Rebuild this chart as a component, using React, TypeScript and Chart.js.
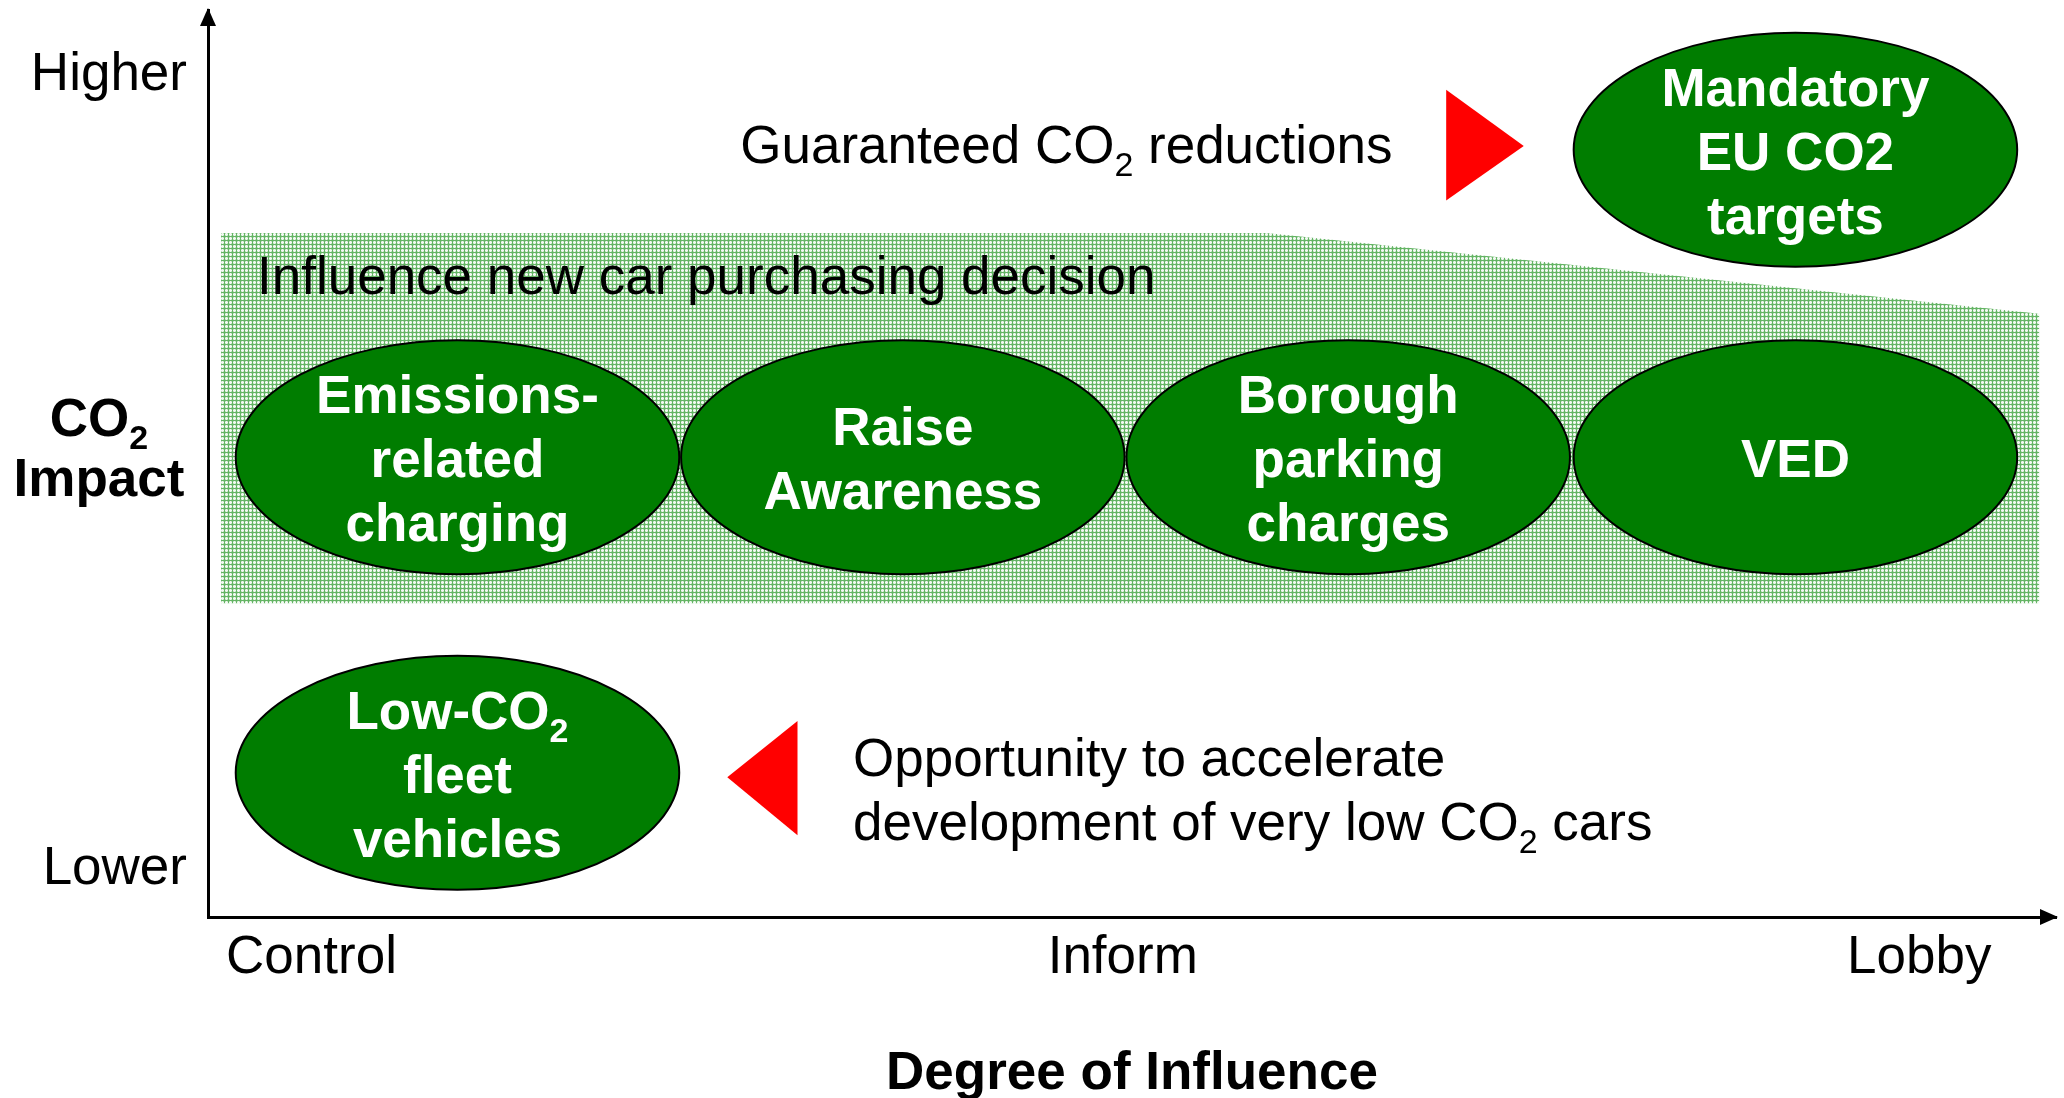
import React, { useEffect, useRef } from 'react';
import { Chart, registerables } from 'chart.js';

Chart.register(...registerables);

const FONT = '"Liberation Sans", Arial, Helvetica, sans-serif';

// ---- axes ----
const xTickValues = [5.6, 49.5, 92.6];
const xTickLabels = ['Control', 'Inform', 'Lobby'];
const yTickValues = [5.3, 92.8];
const yTickLabels = ['Lower', 'Higher'];
const xAxisTitle = 'Degree of Influence';
const yAxisTitleLines = ['CO₂', 'Impact'];
const yAxisTitleY = [55.1, 48.5];

// ---- hatched band: "Influence new car purchasing decision" ----
const bandX = [0.7, 57.3, 99.1];
const bandTop = [75.4, 75.4, 66.5];
const bandBottom = 34.6;

// ---- policy ellipses ----
const policyLabels = [
  ['Emissions-', 'related', 'charging'],
  ['Raise', 'Awareness'],
  ['Borough', 'parking', 'charges'],
  ['VED'],
  ['Mandatory', 'EU CO2', 'targets'],
  ['Low-CO₂', 'fleet', 'vehicles'],
];
const policyX = [13.5, 37.6, 61.7, 85.9, 85.9, 13.5];
const policyY = [50.7, 50.7, 50.7, 50.7, 84.6, 15.9];
const policyRx = 12.0;
const policyRy = 12.9;

// ---- red direction markers (triangle vertices) ----
const arrowRightX = [67.0, 67.0, 71.2];
const arrowRightY = [91.2, 79.0, 85.0];
const arrowLeftX = [31.9, 31.9, 28.1];
const arrowLeftY = [21.6, 9.0, 15.4];

// ---- notes ----
const noteTexts = [
  'Guaranteed CO₂ reductions',
  'Influence new car purchasing decision',
  'Opportunity to accelerate',
  'development of very low CO₂ cars',
];
const noteX = [28.8, 2.65, 34.9, 34.9];
const noteY = [85.2, 70.8, 17.6, 10.6];

function drawRichText(
  ctx: CanvasRenderingContext2D,
  text: string,
  x: number,
  yc: number,
  size: number,
  bold: boolean,
  color: string,
  align: 'left' | 'center' | 'right'
) {
  const weight = bold ? 'bold ' : '';
  const mainFont = `${weight}${size}px ${FONT}`;
  const subSize = Math.round(size * 0.65);
  const subFont = `${weight}${subSize}px ${FONT}`;
  const segs: { t: string; sub: boolean; w: number }[] = [];
  let cur = '';
  for (const ch of text) {
    if (ch === '₂') {
      if (cur) segs.push({ t: cur, sub: false, w: 0 });
      cur = '';
      segs.push({ t: '2', sub: true, w: 0 });
    } else cur += ch;
  }
  if (cur) segs.push({ t: cur, sub: false, w: 0 });
  let total = 0;
  for (const s of segs) {
    ctx.font = s.sub ? subFont : mainFont;
    s.w = ctx.measureText(s.t).width;
    total += s.w;
  }
  let sx = align === 'center' ? x - total / 2 : align === 'right' ? x - total : x;
  const baseline = yc + (size * 0.716) / 2;
  ctx.fillStyle = color;
  ctx.textAlign = 'left';
  ctx.textBaseline = 'alphabetic';
  for (const s of segs) {
    ctx.font = s.sub ? subFont : mainFont;
    ctx.fillText(s.t, sx, s.sub ? baseline + size * 0.25 : baseline);
    sx += s.w;
  }
}

const diagramPlugin = {
  id: 'diagram',
  afterDatasetsDraw(chart: any) {
    const ctx: CanvasRenderingContext2D = chart.ctx;
    const xs = chart.scales.x;
    const ys = chart.scales.y;
    ctx.save();

    // triangles
    [2, 3].forEach((di) => {
      const pts = chart.getDatasetMeta(di).data;
      ctx.beginPath();
      pts.forEach((p: any, i: number) => {
        if (i === 0) ctx.moveTo(p.x, p.y);
        else ctx.lineTo(p.x, p.y);
      });
      ctx.closePath();
      ctx.fillStyle = '#FF0000';
      ctx.fill();
    });

    // notes
    noteTexts.forEach((t, i) => {
      drawRichText(ctx, t, xs.getPixelForValue(noteX[i]), ys.getPixelForValue(noteY[i]), 53, false, '#000', 'left');
    });

    // ellipses
    const meta = chart.getDatasetMeta(1);
    meta.data.forEach((pt: any, i: number) => {
      const rx = Math.abs(xs.getPixelForValue(policyX[i] + policyRx) - pt.x);
      const ry = Math.abs(ys.getPixelForValue(policyY[i] + policyRy) - pt.y);
      ctx.beginPath();
      ctx.ellipse(pt.x, pt.y, rx, ry, 0, 0, Math.PI * 2);
      ctx.fillStyle = '#007D00';
      ctx.fill();
      ctx.lineWidth = 2;
      ctx.strokeStyle = '#000';
      ctx.stroke();
      const lines = policyLabels[i];
      const lh = 64;
      const start = pt.y - ((lines.length - 1) * lh) / 2 + 1;
      lines.forEach((ln, k) => {
        drawRichText(ctx, ln, pt.x, start + k * lh, 53, true, '#FFFFFF', 'center');
      });
    });
    ctx.restore();
  },
  afterDraw(chart: any) {
    const ctx: CanvasRenderingContext2D = chart.ctx;
    const { left, right, top, bottom } = chart.chartArea;
    const ys = chart.scales.y;
    ctx.save();
    ctx.fillStyle = '#000';
    // up arrow
    ctx.beginPath();
    ctx.moveTo(left, top - 2);
    ctx.lineTo(left - 8, top + 16);
    ctx.lineTo(left + 8, top + 16);
    ctx.closePath();
    ctx.fill();
    // right arrow
    ctx.beginPath();
    ctx.moveTo(right + 2, bottom);
    ctx.lineTo(right - 16, bottom - 8);
    ctx.lineTo(right - 16, bottom + 8);
    ctx.closePath();
    ctx.fill();
    // y axis title, horizontal
    yAxisTitleLines.forEach((t, i) => {
      drawRichText(ctx, t, left - 109, ys.getPixelForValue(yAxisTitleY[i]), 53, true, '#000', 'center');
    });
    ctx.restore();
  },
};

export default function App() {
  const canvasRef = useRef<HTMLCanvasElement | null>(null);

  useEffect(() => {
    const canvas = canvasRef.current;
    if (!canvas) return;
    const ctx2d = canvas.getContext('2d') as CanvasRenderingContext2D;

    const pc = document.createElement('canvas');
    pc.width = 4;
    pc.height = 4;
    const p = pc.getContext('2d') as CanvasRenderingContext2D;
    p.fillStyle = 'rgb(190,225,190)';
    p.fillRect(0, 0, 4, 4);
    p.fillStyle = 'rgb(242,249,242)';
    p.fillRect(2, 0, 1, 4);
    p.fillRect(0, 2, 4, 1);
    p.fillStyle = 'rgb(100,180,100)';
    p.fillRect(0, 0, 1, 4);
    p.fillRect(0, 0, 4, 1);
    const pattern = ctx2d.createPattern(pc, 'repeat');

    const chart = new Chart(canvas, {
      type: 'scatter',
      data: {
        datasets: [
          {
            type: 'line',
            label: 'Influence new car purchasing decision',
            data: bandX.map((x, i) => ({ x, y: bandTop[i] })),
            borderColor: 'rgba(0,0,0,0)',
            borderWidth: 0,
            pointRadius: 0,
            backgroundColor: pattern as any,
            fill: { value: bandBottom },
            tension: 0,
          } as any,
          {
            label: 'Policies',
            data: policyX.map((x, i) => ({ x, y: policyY[i] })),
            pointRadius: 0,
          },
          {
            label: 'Guaranteed',
            data: arrowRightX.map((x, i) => ({ x, y: arrowRightY[i] })),
            pointRadius: 0,
          },
          {
            label: 'Opportunity',
            data: arrowLeftX.map((x, i) => ({ x, y: arrowLeftY[i] })),
            pointRadius: 0,
          },
        ],
      },
      options: {
        responsive: false,
        animation: false,
        events: [],
        layout: { padding: { left: 0, top: 10, right: 8, bottom: 0 } },
        plugins: {
          legend: { display: false },
          tooltip: { enabled: false },
        },
        scales: {
          x: {
            type: 'linear',
            min: 0,
            max: 100,
            afterFit: (s: any) => {
              s.height = 181;
              s.paddingLeft = 0;
              s.paddingRight = 0;
            },
            afterBuildTicks: (s: any) => {
              s.ticks = xTickValues.map((v) => ({ value: v }));
            },
            ticks: {
              autoSkip: false,
              maxRotation: 0,
              padding: 10,
              color: '#000',
              font: { family: FONT, size: 53 },
              callback: (v: any) => xTickLabels[xTickValues.indexOf(v)],
            },
            grid: { display: false, drawTicks: false },
            border: { display: true, color: '#000', width: 3 },
            title: {
              display: true,
              text: xAxisTitle,
              color: '#000',
              font: { family: FONT, size: 53, weight: 'bold' },
              padding: { top: 0, bottom: -8 },
            },
          },
          y: {
            type: 'linear',
            min: 0,
            max: 100,
            afterFit: (s: any) => {
              s.width = 208;
              s.paddingTop = 0;
              s.paddingBottom = 0;
            },
            afterBuildTicks: (s: any) => {
              s.ticks = yTickValues.map((v) => ({ value: v }));
            },
            ticks: {
              autoSkip: false,
              padding: 21,
              color: '#000',
              font: { family: FONT, size: 53 },
              callback: (v: any) => yTickLabels[yTickValues.indexOf(v)],
            },
            grid: { display: false, drawTicks: false },
            border: { display: true, color: '#000', width: 3 },
          },
        },
      } as any,
      plugins: [diagramPlugin],
    });
    return () => chart.destroy();
  }, []);

  return (
    <div style={{ position: 'fixed', left: 0, top: 0, width: 2064, height: 1098, background: '#fff' }}>
      <canvas ref={canvasRef} width={2064} height={1098} style={{ display: 'block', width: 2064, height: 1098 }} />
    </div>
  );
}
